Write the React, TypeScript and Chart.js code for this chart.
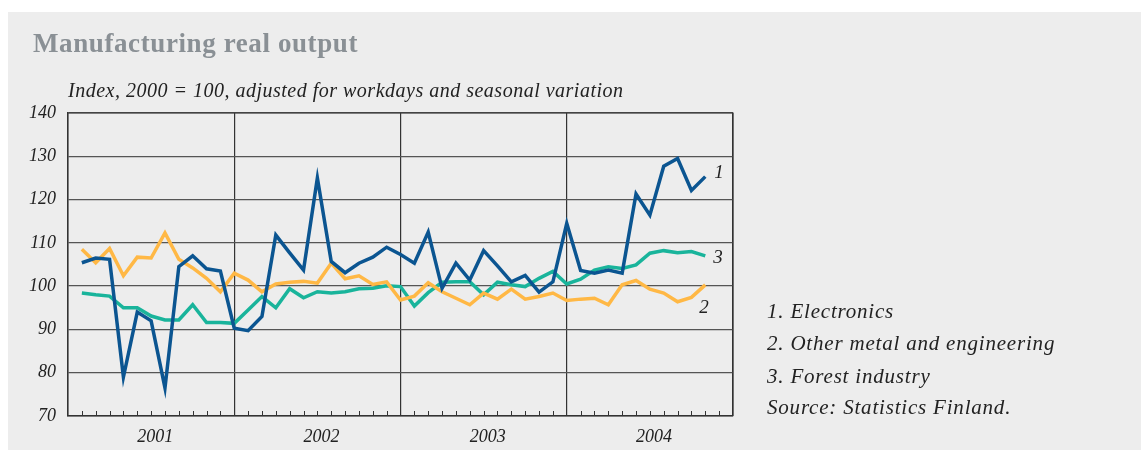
import { useEffect, useRef } from "react";
import { Chart, registerables } from "chart.js";

Chart.register(...registerables);

const chartTitle = "Manufacturing real output";
const subtitle = "Index, 2000 = 100, adjusted for workdays and seasonal variation";
const years = ["2001", "2002", "2003", "2004"];
const seriesNames = ["1. Electronics", "2. Other metal and engineering", "3. Forest industry"];
const sourceNote = "Source: Statistics Finland.";
const lineTags = ["1", "2", "3"];

// monthly values, Jan 2001 .. Oct 2004
const electronics = [
  105.4, 106.5, 106.2, 79, 94, 92, 76.5, 104.5, 107, 104, 103.5, 90.3,
  89.7, 93, 111.8, 107.7, 103.7, 125, 105.7, 103.1, 105.3, 106.7, 109, 107.3,
  105.3, 112.5, 99.5, 105.3, 101.4, 108.2, 104.7, 101, 102.5, 98.6, 101, 114.5,
  103.6, 103, 103.7, 103, 121.3, 116.4, 127.7, 129.5, 122.1, 125.3,
];
const otherMetal = [
  108.5, 105.4, 108.7, 102.4, 106.7, 106.5, 112.3, 106.2, 104.2, 101.8, 98.7, 103,
  101.4, 98.7, 100.5, 100.9, 101.1, 100.7, 105.3, 101.7, 102.4, 100.4, 101, 96.8,
  97.7, 100.8, 98.7, 97.2, 95.7, 98.4, 97, 99.3, 97, 97.6, 98.4, 96.7,
  97, 97.2, 95.7, 100.3, 101.3, 99.3, 98.4, 96.4, 97.4, 100.3,
];
const forest = [
  98.4, 98, 97.7, 95, 95, 93.1, 92.2, 92.2, 95.7, 91.6, 91.6, 91.4,
  94.5, 97.6, 95, 99.4, 97.3, 98.7, 98.4, 98.7, 99.4, 99.5, 100.1, 99.9,
  95.4, 98.5, 100.9, 101, 101, 98, 100.9, 100.3, 99.9, 101.8, 103.4, 100.5,
  101.6, 103.7, 104.5, 104.1, 104.9, 107.6, 108.2, 107.7, 108, 107,
];

const colors = ["#0b5591", "#ffb845", "#19b49b"];
const FONT = "'Liberation Serif', 'Times New Roman', serif";

const toPoints = (arr: number[]) => arr.map((v, i) => ({ x: i + 1, y: v }));

const decor = {
  id: "decor",
  beforeDraw(chart: any) {
    const { ctx, width, height } = chart;
    ctx.save();
    ctx.fillStyle = "#ffffff";
    ctx.fillRect(0, 0, width, height);
    ctx.fillStyle = "#ededed";
    ctx.fillRect(8, 12, width - 8, height - 12);
    ctx.restore();
  },
  afterDatasetsDraw(chart: any) {
    const { ctx, chartArea } = chart;
    const xs = chart.scales.x;
    ctx.save();
    // inner month ticks on bottom axis
    ctx.strokeStyle = "#333";
    ctx.lineWidth = 1;
    for (let k = 1; k < 48; k++) {
      if (k % 12 === 0) continue;
      const px = Math.round(xs.getPixelForValue(k)) + 0.5;
      ctx.beginPath();
      ctx.moveTo(px, chartArea.bottom);
      ctx.lineTo(px, chartArea.bottom - 5);
      ctx.stroke();
    }
    // frame top/right
    ctx.strokeStyle = "#333";
    ctx.lineWidth = 1.2;
    ctx.beginPath();
    ctx.moveTo(chartArea.left, chartArea.top);
    ctx.lineTo(chartArea.right, chartArea.top);
    ctx.lineTo(chartArea.right, chartArea.bottom);
    ctx.stroke();

    // year labels, centred in each year
    ctx.fillStyle = "#222";
    ctx.font = `italic 18px ${FONT}`;
    ctx.textAlign = "center";
    ctx.textBaseline = "middle";
    years.forEach((y, i) => {
      ctx.fillText(y, xs.getPixelForValue(6 + 12 * i) + 4, 437);
    });

    // line tags
    ctx.font = `italic 19px ${FONT}`;
    ctx.textAlign = "left";
    const offs = [
      [9, -4],
      [-6, 23],
      [8, 2],
    ];
    chart.data.datasets.forEach((_: any, i: number) => {
      const meta = chart.getDatasetMeta(i);
      const last = meta.data[meta.data.length - 1];
      ctx.fillText(lineTags[i], last.x + offs[i][0], last.y + offs[i][1]);
    });

    // titles
    ctx.fillStyle = "#8a9095";
    ctx.font = `bold 27px ${FONT}`;
    ctx.letterSpacing = "0.6px";
    ctx.textBaseline = "alphabetic";
    ctx.fillText(chartTitle, 33, 52);
    ctx.fillStyle = "#222";
    ctx.font = `italic 20px ${FONT}`;
    ctx.letterSpacing = "0.5px";
    ctx.fillText(subtitle, 68, 97);

    // legend text
    ctx.font = `italic 21px ${FONT}`;
    ctx.letterSpacing = "0.8px";
    ctx.textBaseline = "middle";
    const lines = [...seriesNames, sourceNote];
    const ys = [312, 344, 377, 408];
    lines.forEach((t, i) => ctx.fillText(t, 767, ys[i]));
    ctx.restore();
  },
};

export default function App() {
  const ref = useRef<HTMLCanvasElement>(null);
  useEffect(() => {
    if (!ref.current) return;
    const chart = new Chart(ref.current, {
      type: "line",
      data: {
        datasets: [
          { label: seriesNames[0], data: toPoints(electronics), borderColor: colors[0] },
          { label: seriesNames[1], data: toPoints(otherMetal), borderColor: colors[1] },
          { label: seriesNames[2], data: toPoints(forest), borderColor: colors[2] },
        ].map((d) => ({
          ...d,
          borderWidth: 3.5,
          pointRadius: 0,
          tension: 0,
          fill: false,
          borderJoinStyle: "miter" as const,
        })),
      },
      options: {
        responsive: false,
        animation: false,
        layout: { padding: { left: 8, top: 113, right: 408, bottom: 0 } },
        plugins: { legend: { display: false }, tooltip: { enabled: false }, title: { display: false } },
        scales: {
          x: {
            type: "linear",
            min: 0,
            max: 48,
            afterFit: (s: any) => {
              s.height = 34;
            },
            afterBuildTicks: (s: any) => {
              const t = [];
              for (let k = 0; k <= 48; k += 12) t.push({ value: k });
              s.ticks = t;
            },
            ticks: {
              autoSkip: false,
              maxRotation: 0,
              display: false,
            },
            grid: {
              drawTicks: false,
              color: "#333",
              lineWidth: 1.2,
            },
            border: { display: true, color: "#333", width: 1.5 },
          },
          y: {
            min: 70,
            max: 140,
            afterFit: (s: any) => {
              s.width = 60;
            },
            ticks: {
              stepSize: 10,
              padding: 12,
              color: "#222",
              font: { family: FONT, size: 18, style: "italic" },
            },
            grid: { drawTicks: false, color: "#555", lineWidth: 1.3 },
            border: { display: true, color: "#333", width: 1.5 },
          },
        },
      },
      plugins: [decor],
    });
    return () => chart.destroy();
  }, []);
  return (
    <div style={{ position: "absolute", left: 0, top: 0, width: 1141, height: 450 }}>
      <canvas ref={ref} width={1141} height={450} style={{ display: "block", width: 1141, height: 450 }} />
    </div>
  );
}
